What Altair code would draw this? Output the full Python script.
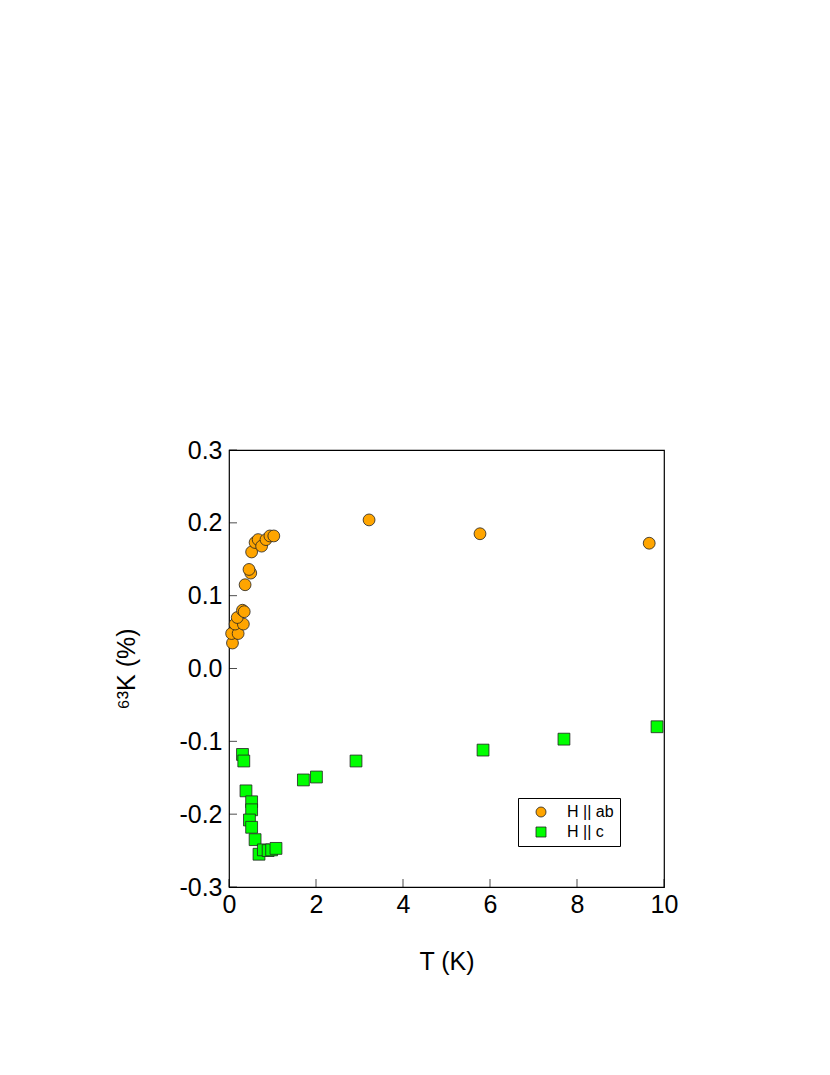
import altair as alt
import pandas as pd

# H || ab (orange circles)
ab_T = [0.08, 0.06, 0.21, 0.14, 0.33, 0.19, 0.31, 0.35, 0.37, 0.50, 0.46, 0.52,
        0.60, 0.67, 0.75, 0.85, 0.94, 1.03, 3.22, 5.77, 9.66]
ab_K = [0.035, 0.048, 0.048, 0.061, 0.061, 0.070, 0.080, 0.078, 0.115, 0.131, 0.136, 0.160,
        0.173, 0.177, 0.168, 0.177, 0.182, 0.182, 0.204, 0.185, 0.172]

# H || c (green squares)
c_T = [0.31, 0.34, 0.39, 0.52, 0.52, 0.47, 0.52, 0.60, 0.69, 0.79, 0.90, 0.98, 1.08,
       1.71, 2.01, 2.92, 5.84, 7.70, 9.84]
c_K = [-0.118, -0.127, -0.168, -0.183, -0.194, -0.208, -0.218, -0.235, -0.255, -0.249,
       -0.250, -0.249, -0.247, -0.153, -0.149, -0.127, -0.112, -0.097, -0.080]

series = ["H || ab", "H || c"]
colors = ["#FFA500", "#00FF00"]
shapes = ["circle", "square"]

x_ticks = [0, 2, 4, 6, 8, 10]
y_ticks = [-0.3, -0.2, -0.1, 0.0, 0.1, 0.2, 0.3]

df = pd.concat([
    pd.DataFrame({"T": ab_T, "K": ab_K, "s": series[0]}),
    pd.DataFrame({"T": c_T, "K": c_K, "s": series[1]}),
])

FONT = "Liberation Sans"

xs = alt.Scale(domain=[0, 10], nice=False, zero=False)
ys = alt.Scale(domain=[-0.3, 0.3], nice=False, zero=False)

points = alt.Chart(df).mark_point(filled=True, size=140, stroke="#222222",
                                  strokeWidth=0.8, opacity=1).encode(
    x=alt.X("T:Q", scale=xs, axis=alt.Axis(
        values=x_ticks, title="T (K)", ticks=False, grid=False, domain=False,
        labelFlush=False,
        labelFontSize=25, labelFont=FONT, labelColor="black", labelPadding=5,
        titleFont=FONT, titleFontSize=25, titleFontWeight="normal", titleColor="black",
        titlePadding=32)),
    y=alt.Y("K:Q", scale=ys, axis=alt.Axis(
        values=y_ticks, title="⁶³K (%)", ticks=False, grid=False, domain=False,
        labelFlush=False,
        labelExpr="replace(format(datum.value, '.1f'), '−', '-')",
        labelFontSize=25, labelFont=FONT, labelColor="black", labelPadding=7,
        titleFont=FONT, titleFontSize=25, titleFontWeight="normal", titleColor="black",
        titlePadding=39)),
    color=alt.Color("s:N", scale=alt.Scale(domain=series, range=colors), legend=alt.Legend(
        title=None, orient="none", legendX=289, legendY=348,
        strokeColor="black", padding=6, symbolOffset=9, labelFont=FONT, labelFontSize=16,
        symbolSize=100, symbolStrokeColor="#222222", symbolStrokeWidth=0.8,
        rowPadding=4, labelOffset=18)),
    shape=alt.Shape("s:N", scale=alt.Scale(domain=series, range=shapes), legend=None),
)

xt = pd.DataFrame({"v": x_ticks})
yt = pd.DataFrame({"v": y_ticks})

xticks = alt.Chart(xt).mark_tick(orient="vertical", size=8, yOffset=-4, color="black",
                                 thickness=1).encode(
    x=alt.X("v:Q", scale=xs), y=alt.datum(-0.3, scale=ys))
yticks = alt.Chart(yt).mark_tick(orient="horizontal", size=8, xOffset=4, color="black",
                                 thickness=1).encode(
    y=alt.Y("v:Q", scale=ys), x=alt.datum(0, scale=xs))

chart = alt.layer(xticks, yticks, points).properties(
    width=435, height=437,
    autosize=alt.AutoSizeParams(type="none"),
    padding={"left": 221, "top": 442, "right": 140, "bottom": 160},
).configure_view(stroke="black", strokeWidth=1.2)

chart.save("out.html", embed_options={"renderer": "svg", "actions": False})
